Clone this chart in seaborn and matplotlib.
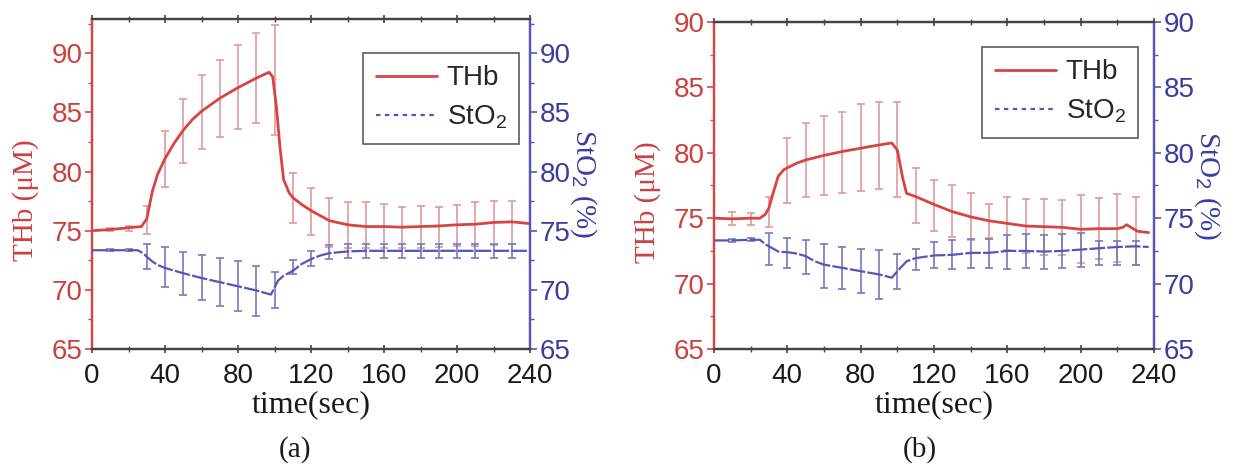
import numpy as np
import pandas as pd
import matplotlib
matplotlib.use("Agg")
import matplotlib.pyplot as plt
from matplotlib.ticker import MultipleLocator
from matplotlib.lines import Line2D
import seaborn as sns

# ---------------- data ----------------
eb_t = [10, 20, 30, 40, 50, 60, 70, 80, 90, 100, 110, 120, 130, 140, 150,
        160, 170, 180, 190, 200, 210, 220, 230]

# panel (a)
a_thb_t = [0, 10, 20, 27, 30, 33, 36, 40, 45, 50, 55, 60, 70, 80, 90, 97, 99,
           101, 103, 105, 108, 110, 115, 120, 130, 140, 150, 160, 170, 180,
           190, 200, 210, 220, 230, 240]
a_thb_v = [75.0, 75.1, 75.25, 75.35, 76.0, 78.3, 79.8, 81.1, 82.4, 83.5, 84.4,
           85.1, 86.2, 87.1, 87.9, 88.4, 88.0, 85.5, 82.0, 79.3, 78.2, 77.8,
           77.2, 76.7, 75.85, 75.5, 75.35, 75.35, 75.3, 75.35, 75.4, 75.5,
           75.55, 75.7, 75.75, 75.6]
a_thb_mean = [75.1, 75.2, 75.9, 81.05, 83.4, 85.05, 86.15, 87.15, 87.9, 87.75,
              77.75, 76.65, 75.7, 75.45, 75.45, 75.4, 75.25, 75.3, 75.3, 75.45,
              75.55, 75.65, 75.7]
a_thb_err = [0.15, 0.2, 1.15, 2.35, 2.7, 3.15, 3.25, 3.55, 3.8, 4.65, 2.1, 2.0,
             2.1, 1.95, 1.95, 1.9, 1.75, 1.75, 1.7, 1.75, 1.85, 1.85, 1.8]

a_sto_t = [0, 10, 20, 25, 28, 30, 33, 36, 40, 50, 60, 70, 80, 90, 98, 100,
           102, 105, 110, 115, 120, 125, 130, 140, 150, 160, 170, 180, 190,
           200, 210, 220, 230, 240]
a_sto_v = [73.35, 73.35, 73.35, 73.35, 73.1, 72.8, 72.4, 72.1, 71.85, 71.4,
           71.0, 70.65, 70.3, 69.95, 69.6, 70.2, 70.8, 71.2, 71.6, 72.2, 72.6,
           72.9, 73.1, 73.25, 73.3, 73.3, 73.3, 73.3, 73.3, 73.3, 73.3, 73.3,
           73.3, 73.3]
a_sto_mean = [73.35, 73.35, 72.85, 71.9, 71.4, 71.05, 70.65, 70.3, 69.9, 70.0,
              71.9, 72.65, 73.2, 73.3, 73.3, 73.3, 73.3, 73.3, 73.3, 73.3,
              73.3, 73.3, 73.3]
a_sto_err = [0.1, 0.1, 1.05, 1.7, 1.8, 1.9, 2.05, 2.1, 2.1, 1.5, 0.6, 0.65,
             0.6, 0.6, 0.6, 0.6, 0.6, 0.6, 0.6, 0.6, 0.6, 0.6, 0.6]

# panel (b)
b_thb_t = [0, 10, 20, 25, 28, 30, 32, 35, 38, 40, 45, 50, 60, 70, 80, 90, 97,
           100, 103, 105, 110, 115, 120, 130, 140, 150, 160, 170, 180, 190,
           200, 210, 220, 223, 225, 228, 231, 237]
b_thb_v = [75.0, 74.95, 75.0, 75.0, 75.3, 75.8, 76.8, 78.2, 78.7, 78.85, 79.2,
           79.45, 79.8, 80.1, 80.35, 80.6, 80.75, 80.2, 78.0, 76.9, 76.65,
           76.35, 76.05, 75.5, 75.1, 74.8, 74.6, 74.4, 74.35, 74.3, 74.15,
           74.2, 74.2, 74.3, 74.5, 74.25, 74.0, 73.9]
b_thb_mean = [74.95, 74.95, 75.5, 78.65, 79.45, 79.8, 80.0, 80.4, 80.55, 80.25,
              76.7, 75.95, 75.55, 75.1, 74.8, 74.6, 74.4, 74.35, 74.3, 74.15,
              74.2, 74.25, 74.0]
b_thb_err = [0.5, 0.45, 1.15, 2.5, 2.85, 3.0, 3.1, 3.3, 3.35, 3.65, 2.1, 1.95,
             1.95, 1.8, 1.3, 2.0, 2.05, 2.15, 2.1, 2.6, 2.35, 2.6, 2.6]

b_sto_t = [0, 10, 20, 25, 28, 30, 35, 40, 45, 50, 55, 60, 70, 80, 90, 97, 100,
           105, 110, 120, 130, 140, 150, 160, 170, 180, 190, 200, 210, 220,
           230, 237]
b_sto_v = [73.3, 73.3, 73.35, 73.35, 73.0, 72.85, 72.45, 72.4, 72.3, 72.1,
           71.7, 71.45, 71.2, 70.95, 70.7, 70.45, 70.95, 71.7, 71.95, 72.15,
           72.2, 72.35, 72.35, 72.5, 72.5, 72.45, 72.5, 72.6, 72.7, 72.8,
           72.85, 72.8]
b_sto_mean = [73.3, 73.35, 72.65, 72.35, 72.0, 71.35, 71.2, 70.95, 70.7, 70.95,
              71.85, 72.2, 72.25, 72.3, 72.3, 72.45, 72.5, 72.45, 72.5, 72.55,
              72.35, 72.35, 72.35]
b_sto_err = [0.1, 0.1, 1.2, 1.15, 1.3, 1.65, 1.6, 1.7, 1.85, 1.35, 0.8, 1.0,
             1.1, 1.1, 1.1, 1.3, 1.3, 1.3, 1.3, 1.3, 0.9, 0.9, 0.9]

x_ticks = [0, 40, 80, 120, 160, 200, 240]
y_ticks = [65, 70, 75, 80, 85, 90]

# ---------------- style ----------------
sns.set_theme(style="ticks")
plt.rcParams["font.family"] = ["Liberation Sans", "DejaVu Sans"]
plt.rcParams["mathtext.fontset"] = "custom"
plt.rcParams["mathtext.rm"] = "Liberation Sans"
plt.rcParams["mathtext.it"] = "Liberation Sans:italic"

RED = "#d64545"
RED_EB = "#e29a9a"
RED_TXT = "#cc4040"
BLUE = "#5656b4"
BLUE_EB = "#7878c0"
BLUE_TXT = "#3c3ca0"
SPINE = "#444444"
SERIF = ["Liberation Serif", "DejaVu Serif"]

fig = plt.figure(figsize=(12.42, 4.68), dpi=100)
ax_a = fig.add_axes([0.0741, 0.2543, 0.3527, 0.7051])
ax_b = fig.add_axes([0.5749, 0.2543, 0.3543, 0.6987])


def draw(ax, thb_t, thb_v, thb_mean, thb_err, sto_t, sto_v, sto_mean, sto_err,
         ytop, leg_anchor):
    ax2 = ax.twinx()
    ax.errorbar(eb_t, thb_mean, yerr=thb_err, fmt="none", ecolor=RED_EB,
                elinewidth=1.2, capsize=3, capthick=1.2, zorder=2)
    sns.lineplot(x=thb_t, y=thb_v, ax=ax, color=RED, lw=2.0, zorder=3,
                 legend=False)
    ax2.errorbar(eb_t, sto_mean, yerr=sto_err, fmt="none", ecolor=BLUE_EB,
                 elinewidth=1.2, capsize=3, capthick=1.2, zorder=2)
    sns.lineplot(x=sto_t, y=sto_v, ax=ax2, color=BLUE, lw=1.6, zorder=3,
                 legend=False)
    ax2.lines[-1].set_linestyle((0, (7, 1.0)))

    for a in (ax, ax2):
        a.set_xlim(0, 240)
        a.set_ylim(65, ytop)
        a.set_facecolor("none")
    ax.set_xticks(x_ticks)
    ax.xaxis.set_minor_locator(MultipleLocator(20))
    ax.set_yticks(y_ticks)
    ax.yaxis.set_minor_locator(MultipleLocator(2.5))
    ax2.set_yticks(y_ticks)
    ax2.yaxis.set_minor_locator(MultipleLocator(2.5))

    ax.tick_params(axis="x", which="both", direction="inout", top=True,
                   colors=SPINE, labelcolor="#1a1a1a", labelsize=20, pad=7)
    ax.tick_params(axis="x", which="major", length=6, width=1.2)
    ax.tick_params(axis="x", which="minor", length=4, width=1.0)
    ax.tick_params(axis="y", which="both", direction="out", colors=RED,
                   labelcolor=RED_TXT, labelsize=20, pad=2)
    ax.tick_params(axis="y", which="major", length=5, width=1.2)
    ax.tick_params(axis="y", which="minor", length=3, width=1.0)
    ax2.tick_params(axis="y", which="both", direction="out", colors=BLUE,
                    labelcolor=BLUE_TXT, labelsize=20, pad=2)
    ax2.tick_params(axis="y", which="major", length=5, width=1.2)
    ax2.tick_params(axis="y", which="minor", length=3, width=1.0)

    for a in (ax, ax2):
        a.spines["top"].set_color(SPINE)
        a.spines["bottom"].set_color(SPINE)
        a.spines["left"].set_color(RED)
        a.spines["right"].set_color(BLUE)
        for s in a.spines.values():
            s.set_linewidth(1.6)
            s.set_visible(True)

    ax.set_xlabel("time(sec)", family=SERIF, fontsize=23, color="#1a1a1a",
                  labelpad=1)
    ax.set_ylabel("THb (μM)", family=SERIF, fontsize=21, color=RED_TXT)
    ax.yaxis.set_label_coords(-0.12, 0.45)
    ax2.set_ylabel("StO$_2$ (%)", family=SERIF, fontsize=21, color=BLUE_TXT,
                   rotation=270, labelpad=20)

    handles = [Line2D([], [], color=RED, lw=2.0),
               Line2D([], [], color=BLUE, lw=1.6, linestyle=(0, (2, 2)))]
    leg = ax2.legend(handles, ["THb", "StO$_2$"], loc="upper right",
                     bbox_to_anchor=leg_anchor, fontsize=20, frameon=True,
                     fancybox=False, handlelength=2.2, borderpad=0.45,
                     labelspacing=0.45, handletextpad=0.35, borderaxespad=0)
    leg.get_frame().set_edgecolor("#333333")
    leg.get_frame().set_linewidth(1.2)
    return ax2


draw(ax_a, a_thb_t, a_thb_v, a_thb_mean, a_thb_err,
     a_sto_t, a_sto_v, a_sto_mean, a_sto_err, 92.9, (0.975, 0.897))
draw(ax_b, b_thb_t, b_thb_v, b_thb_mean, b_thb_err,
     b_sto_t, b_sto_v, b_sto_mean, b_sto_err, 90.0, (0.964, 0.924))

fig.text(295 / 1242, 1 - 450 / 468, "(a)", family=SERIF, fontsize=21,
         ha="center", va="center", color="#1a1a1a")
fig.text(920 / 1242, 1 - 450 / 468, "(b)", family=SERIF, fontsize=21,
         ha="center", va="center", color="#1a1a1a")

fig.savefig("out.png", dpi=100, facecolor="white")
